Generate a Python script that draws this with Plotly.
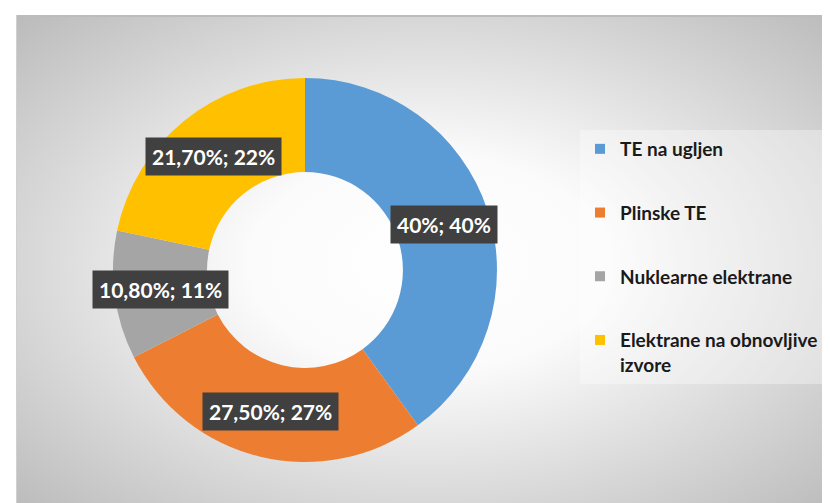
import base64
import math
import plotly.graph_objects as go

# ---- data ----
categories = ["TE na ugljen", "Plinske TE", "Nuklearne elektrane", "Elektrane na obnovljive izvore"]
legend_names = ["TE na ugljen", "Plinske TE", "Nuklearne elektrane", "Elektrane na obnovljive<br>izvore"]
values = [40, 27.5, 10.8, 21.7]
label_texts = ["40%; 40%", "27,50%; 27%", "10,80%; 11%", "21,70%; 22%"]

colors = ["#5B9BD5", "#ED7D31", "#A5A5A5", "#FFC000"]
W, H = 830, 503

# donut geometry (pixels)
cx, cy, R = 297, 262, 192
hole = 0.51
label_r = 146

# radial gradient background as SVG
svg = """<svg xmlns='http://www.w3.org/2000/svg' width='822' height='496' viewBox='0 0 822 496' preserveAspectRatio='none'>
<defs><radialGradient id='g' cx='50%' cy='50%' r='72%'>
<stop offset='0' stop-color='#ffffff'/>
<stop offset='0.3' stop-color='#fbfbfb'/>
<stop offset='1' stop-color='#b9b9b9'/>
</radialGradient></defs>
<rect x='0' y='0' width='822' height='496' fill='url(#g)'/>
<line x1='0' y1='1' x2='822' y2='1' stroke='#bcbcbc' stroke-width='2'/>
<line x1='0.5' y1='0' x2='0.5' y2='496' stroke='#d0d0d0' stroke-width='1'/>
</svg>"""
src = "data:image/svg+xml;base64," + base64.b64encode(svg.encode()).decode()

fig = go.Figure()

fig.add_trace(go.Pie(
    labels=categories,
    values=values,
    marker=dict(colors=colors, line=dict(width=0)),
    hole=hole,
    sort=False,
    direction="clockwise",
    rotation=0,
    textinfo="none",
    showlegend=False,
    domain=dict(x=[(cx - R) / W, (cx + R) / W], y=[1 - (cy + R) / H, 1 - (cy - R) / H]),
))

for name, col in zip(legend_names, colors):
    fig.add_trace(go.Scatter(
        x=[None], y=[None], mode="markers", name=name, legendgroup=name,
        marker=dict(symbol="square", size=10, color=col),
    ))

# data labels placed at the middle angle of each slice
total = sum(values)
annotations = []
cum = 0.0
label_font = "Lato, 'Open Sans', sans-serif"
for txt, v in zip(label_texts, values):
    mid = (cum + v / 2) / total * 2 * math.pi
    cum += v
    px = cx + label_r * math.sin(mid)
    py = cy - label_r * math.cos(mid)
    annotations.append(dict(
        x=px / W, y=1 - py / H, xref="paper", yref="paper",
        text="<b>" + txt + "</b>", showarrow=False,
        font=dict(family=label_font, size=21, color="white"),
        bgcolor="#404040", borderpad=6, xanchor="center", yanchor="middle",
    ))

fig.update_layout(
    width=W, height=H,
    margin=dict(l=0, r=0, t=0, b=0),
    paper_bgcolor="white",
    plot_bgcolor="rgba(0,0,0,0)",
    xaxis=dict(visible=False),
    yaxis=dict(visible=False),
    images=[dict(source=src, xref="paper", yref="paper", x=8 / W, y=1 - 7 / H,
                 sizex=1 - 8 / W, sizey=1 - 7 / H, xanchor="left", yanchor="top",
                 sizing="stretch", layer="below")],
    annotations=annotations,
    legend=dict(
        x=572 / W, y=1 - 122 / H, xanchor="left", yanchor="top",
        font=dict(family=label_font, size=19, color="#1a1a1a", weight="bold"),
        bgcolor="rgba(255,255,255,0.35)",
        tracegroupgap=36, valign="top", itemwidth=30,
    ),
)

fig.write_html("out.html")
